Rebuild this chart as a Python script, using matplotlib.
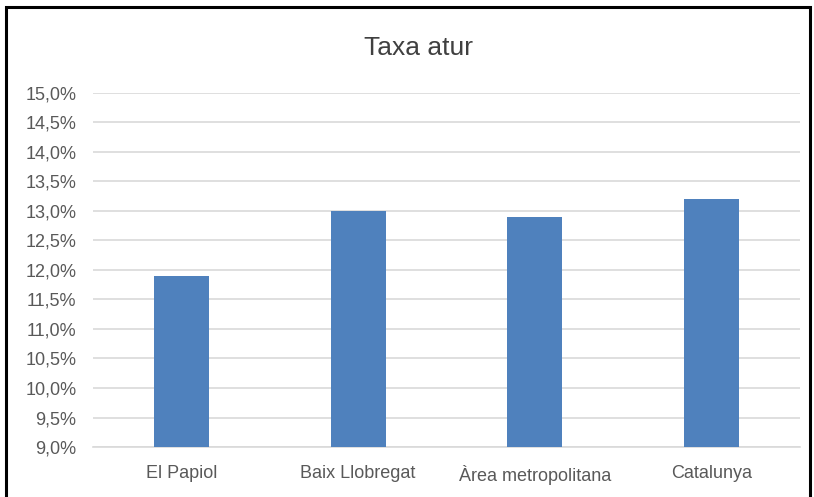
import matplotlib.pyplot as plt
from matplotlib.patches import Rectangle
import numpy as np

categories = ['El Papiol', 'Baix Llobregat', 'Àrea metropolitana', 'Catalunya']
taxa_atur = [11.9, 13.0, 12.9, 13.2]
y_ticks = [9.0, 9.5, 10.0, 10.5, 11.0, 11.5, 12.0, 12.5, 13.0, 13.5, 14.0, 14.5, 15.0]

plt.rcParams['font.family'] = ['Liberation Sans Narrow', 'Liberation Sans', 'DejaVu Sans']

fig = plt.figure(figsize=(8.14, 4.97), dpi=100)
ax = fig.add_axes([0.1143, 0.1006, 0.8685, 0.7123])

x = np.arange(len(categories))
ax.bar(x, taxa_atur, width=0.31, color='#4F81BD', zorder=3)

ax.set_xlim(-0.5, len(categories) - 0.5)
ax.set_ylim(9.0, 15.0)
ax.set_yticks(y_ticks)
ax.set_yticklabels([f'{v:.1f}%'.replace('.', ',') for v in y_ticks])
ax.set_xticks(x)
ax.set_xticklabels(categories)

ax.grid(axis='y', color='#D9D9D9', linewidth=1.2, zorder=0)
for side in ['top', 'right', 'left']:
    ax.spines[side].set_visible(False)
ax.spines['bottom'].set_color('#D9D9D9')
ax.spines['bottom'].set_linewidth(1.2)
ax.tick_params(axis='both', length=0, labelsize=13, colors='#595959')
ax.tick_params(axis='y', pad=12)
ax.tick_params(axis='x', pad=13)

fig.text(0.514, 0.903, 'Taxa atur', ha='center', va='center', fontsize=19, color='#404040')

# outer frame (bottom edge runs off the image)
fig.patches.append(Rectangle((6, -20), 804, 510, transform=None, fill=False,
                             edgecolor='black', linewidth=2.2))

fig.savefig('out.png', dpi=100)
